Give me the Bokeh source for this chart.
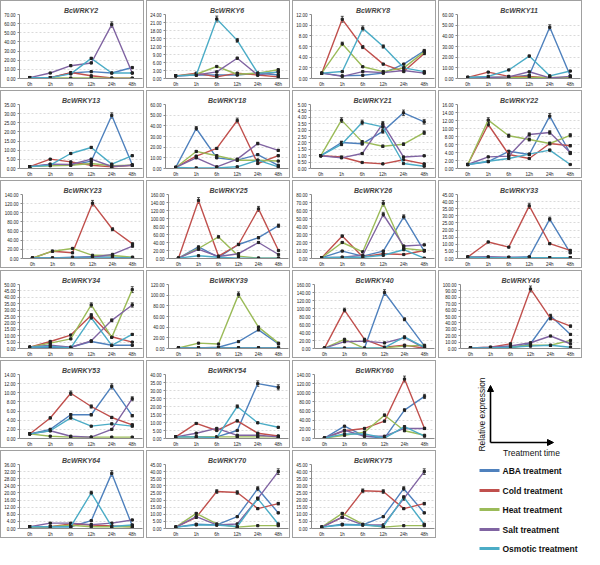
import math
from bokeh.plotting import figure
from bokeh.models import (FactorRange, Range1d, FixedTicker, PrintfTickFormatter,
                          ColumnDataSource, Whisker, TeeHead, Arrow, NormalHead, Label)
from bokeh.layouts import row, column
from bokeh.core.properties import value
from bokeh.embed import file_html
from bokeh.resources import INLINE

times = ["0h", "1h", "6h", "12h", "24h", "48h"]
treatments = ["ABA treatment", "Cold treatment", "Heat treatment", "Salt treatment", "Osmotic treatment"]
colors = ["#4F81BD", "#C0504D", "#9BBB59", "#8064A2", "#4BACC6"]

# each gene: [ABA, Cold, Heat, Salt, Osmotic]
wrky2 = [[1, 1, 6, 7.5, 6, 12], [1, 1, 6.5, 3, 0.5, 0.3], [1, 0.5, 0.5, 0.5, 0.3, 0.3],
         [1, 6, 14, 17, 59, 6], [1, 1, 5, 22, 6, 6]]
wrky6 = [[1, 1.3, 1.3, 1.3, 2, 1.3], [1, 2, 0.6, 2, 1.3, 0.6], [1, 1.6, 4.5, 1.6, 2, 3.3],
         [1, 1.3, 2.5, 7.6, 1.3, 2.5], [1, 1.3, 22.3, 14.3, 2, 2.3]]
wrky8 = [[1, 0.5, 0.6, 1, 2.7, 5.2], [1, 11.1, 5.9, 2.7, 1.3, 4.7], [1, 6.5, 2.2, 1.3, 2, 5],
         [1, 0.4, 1.3, 1.1, 1.5, 1], [1, 1.3, 9.4, 6, 2, 1.3]]
wrky11 = [[1, 1, 1, 3, 48, 2.5], [1, 6, 2, 2, 0.6, 0.6], [1, 1, 1, 1, 1, 1],
          [1, 1, 1.5, 6.3, 0.6, 2], [1, 2, 8, 21, 2.5, 7]]
wrky13 = [[1, 2.2, 1.8, 4, 29, 2], [1, 5.1, 3.6, 1.8, 0.9, 1.8], [1, 1.5, 1.8, 2.7, 1.5, 1.8],
          [1, 2.4, 2.2, 5.1, 1.1, 1.8], [1, 1.8, 8.2, 11.5, 2.4, 7]]
wrky18 = [[1, 37.5, 10, 7.8, 13, 3], [1, 11.6, 18.8, 45, 4.7, 12], [1, 16, 12, 7.8, 7.8, 7],
          [1, 10, 1.6, 8.8, 23.4, 17], [1, 0.6, 0.6, 1.6, 7.8, 1.6]]
wrky21 = [[1, 2.03, 1.93, 2.9, 4.35, 3.65], [1, 0.9, 0.47, 0.36, 0.68, 0.36],
          [1, 3.78, 2.08, 1.74, 1.9, 2.8], [1, 0.83, 1.17, 3.5, 0.9, 0.99],
          [1, 1.88, 3.6, 3.25, 0.39, 0.18]]
wrky22 = [[1, 1.7, 4.3, 3.5, 13.1, 3.75], [1, 11, 3.5, 2.5, 6.25, 5.7], [1, 12.1, 8.2, 7.25, 6.25, 8.3],
          [1, 2.9, 3.1, 8.5, 9, 4], [1, 1.8, 2.5, 3.6, 4.6, 1]]
wrky23 = [[1, 1, 3, 4, 3, 2], [1, 16, 12.5, 121, 64, 32], [1, 16, 22, 7, 6.6, 3],
          [1, 1, 1, 3, 9, 27], [1, 1, 1, 1, 1, 1]]
wrky25 = [[1, 29, 3, 35, 52, 82], [1, 145, 6, 35, 124, 20], [1, 25, 54, 6, 1, 1],
          [1, 23, 5, 12, 40, 10], [1, 7, 3, 1, 1, 1]]
wrky26 = [[1, 9.3, 3, 9.3, 52, 9.3], [1, 28, 2, 6, 5, 10], [1, 20, 8.4, 69, 12.6, 10],
          [1, 1.5, 4, 55, 15.6, 17], [1, 1.5, 1.5, 4, 11, 0.5]]
wrky33 = [[1, 0.5, 0.5, 1.2, 27.7, 4], [1, 11.6, 8, 37, 10.4, 5.7], [1, 0.5, 0.5, 0.5, 0.5, 0.5],
          [1, 1.2, 1, 0.5, 0.5, 0.5], [1, 0.5, 0.5, 0.5, 0.5, 0.5]]
wrky34 = [[1, 1, 1, 5.5, 2.5, 2.5], [1, 5.5, 10.5, 26, 9.2, 5], [1, 4.2, 7.5, 34, 8.7, 46],
          [1, 2.5, 1, 6, 22, 34], [1, 1.7, 0.5, 24, 2.5, 11]]
wrky39 = [[1, 1, 2.4, 13, 35, 8.4], [1, 1, 1, 1, 1, 1], [1, 10, 8.4, 101, 40, 10],
          [1, 1, 1, 1, 1, 1], [1, 1, 1, 1, 1, 1]]
wrky40 = [[1, 1, 1, 140, 73, 6], [1, 96, 23, 3.4, 8.4, 0.5], [1, 23, 0.5, 1.5, 6, 8],
          [1, 17, 18.5, 14, 27, 1.5], [1, 1, 1, 2, 29, 3]]
wrky46 = [[1, 1, 1, 7.4, 51, 22], [1, 2, 7.4, 93, 47, 35], [1, 1, 2, 5, 5, 12.6],
          [1, 2, 4, 9, 19.5, 7.4], [1, 1, 2, 3.7, 5, 2]]
wrky53 = [[1, 2, 5.2, 5.2, 11.4, 5], [1, 4.5, 9.9, 7, 4.6, 3], [1, 0.5, 0.3, 0.3, 0.3, 0.3],
          [1, 1.7, 0.5, 0.3, 2, 8.7], [1, 1.7, 4.5, 2.7, 3.2, 2.7]]
wrky54 = [[1, 1, 1, 5, 34.3, 32], [1, 9.4, 5, 11, 3.3, 1.6], [1, 1, 1, 1, 1, 1],
          [1, 3.3, 6.3, 2, 2, 1], [1, 1, 0.5, 20, 9.8, 7]]
wrky60 = [[1, 27, 5, 1, 62, 92], [1, 17, 22, 38, 130, 22], [1, 7, 14, 51, 17, 7],
          [1, 18, 5, 5, 22, 22], [1, 10, 10, 1, 26, 5]]
wrky64 = [[1, 1, 1, 4.4, 31, 1.5], [1, 1, 2.6, 2, 1.5, 1], [1, 1, 1.8, 1, 1, 1],
          [1, 3, 3, 2.2, 3, 4.8], [1, 1, 1, 20, 1.1, 2]]
wrky70 = [[1, 3, 2.5, 8.3, 28, 11], [1, 7.8, 26, 25.3, 14, 17.5], [1, 10.6, 3.2, 1, 2, 2],
          [1, 8.3, 2.5, 3.2, 21, 40], [1, 2.5, 2.5, 1.4, 21, 3.2]]
wrky75 = [[1, 3, 2.5, 8.3, 28, 11], [1, 7.8, 26.5, 26, 14, 17.5], [1, 10.6, 3, 1, 2, 2],
          [1, 8, 2.5, 2.5, 21, 40], [1, 2.5, 2.5, 1.4, 22, 3]]

gene_names = ["BcWRKY2", "BcWRKY6", "BcWRKY8", "BcWRKY11",
              "BcWRKY13", "BcWRKY18", "BcWRKY21", "BcWRKY22",
              "BcWRKY23", "BcWRKY25", "BcWRKY26", "BcWRKY33",
              "BcWRKY34", "BcWRKY39", "BcWRKY40", "BcWRKY46",
              "BcWRKY53", "BcWRKY54", "BcWRKY60",
              "BcWRKY64", "BcWRKY70", "BcWRKY75"]
gene_data = [wrky2, wrky6, wrky8, wrky11, wrky13, wrky18, wrky21, wrky22,
             wrky23, wrky25, wrky26, wrky33, wrky34, wrky39, wrky40, wrky46,
             wrky53, wrky54, wrky60, wrky64, wrky70, wrky75]
y_max = [70, 24, 12, 60, 35, 60, 5, 16, 140, 160, 80, 45, 50, 120, 160, 100, 14, 40, 140, 36, 45, 45]
y_step = [10, 3, 2, 10, 5, 10, 0.5, 2, 20, 20, 10, 5, 5, 20, 20, 10, 2, 5, 20, 4, 5, 5]

FONT = "Liberation Sans"
PW, PH = 144, 88


def make_panel(name, series, ymax, step):
    p = figure(width=PW, height=PH, x_range=FactorRange(factors=times),
               y_range=Range1d(0, ymax), output_backend="svg", toolbar_location=None,
               min_border_left=17, min_border_right=3, min_border_top=13, min_border_bottom=0,
               background_fill_color="white", border_fill_color="white")
    p.styles = {"border": "1px solid #a0a0a0"}
    p.title.text = name
    p.title.align = "center"
    p.title.text_font = FONT
    p.title.text_font_size = "7px"
    p.title.text_font_style = "bold italic"
    p.title.standoff = 2
    p.outline_line_color = None
    n = int(round(ymax / step))
    p.yaxis.ticker = FixedTicker(ticks=[i * step for i in range(n + 1)])
    p.yaxis.formatter = PrintfTickFormatter(format="%.2f")
    for ax in (p.xaxis, p.yaxis):
        ax.major_label_text_font = FONT
        ax.major_label_text_font_size = "4.5px"
        ax.major_label_text_color = "#222222"
        ax.axis_line_color = "#8a8a8a"
        ax.axis_line_width = 1
        ax.minor_tick_line_color = None
        ax.major_label_standoff = 2
        ax.axis_label_standoff = 0
    p.yaxis.major_tick_out = 2
    p.yaxis.major_tick_in = 0
    p.yaxis.major_tick_line_color = "#8a8a8a"
    p.xaxis.major_tick_line_color = None
    p.xaxis.major_tick_out = 0
    p.xaxis.major_tick_in = 0
    p.xaxis.major_label_standoff = 3
    p.xgrid.grid_line_color = None
    p.ygrid.grid_line_color = "#d0d0d0"
    p.ygrid.grid_line_dash = "2 2"
    p.ygrid.grid_line_width = 0.8
    for vals, col in zip(series, colors):
        src = ColumnDataSource(dict(x=times, y=vals,
                                    up=[v * 1.05 for v in vals], lo=[v * 0.95 for v in vals]))
        p.line("x", "y", source=src, line_color=col, line_width=1.4)
        p.add_layout(Whisker(base="x", upper="up", lower="lo", source=src,
                             line_color="#111111", line_width=0.7,
                             upper_head=TeeHead(size=3, line_color="#111111", line_width=0.7),
                             lower_head=TeeHead(size=3, line_color="#111111", line_width=0.7)))
        p.scatter("x", "y", source=src, marker="square", size=2.2,
                  fill_color="#222222", line_color="#222222")
    return p


panels = [make_panel(n, d, m, s) for n, d, m, s in zip(gene_names, gene_data, y_max, y_step)]

# legend / schematic panel
LW, LH = 146, 192
lg = figure(width=LW, height=LH, x_range=Range1d(0, LW), y_range=Range1d(LH, 0),
            output_backend="svg", toolbar_location=None,
            min_border_left=0, min_border_right=0, min_border_top=0, min_border_bottom=0)
lg.axis.visible = False
lg.grid.grid_line_color = None
lg.outline_line_color = None
lg.add_layout(Arrow(end=NormalHead(size=6, fill_color="black", line_color="black"),
                    x_start=52, y_start=82, x_end=52, y_end=25, line_width=1.6))
lg.add_layout(Arrow(end=NormalHead(size=6, fill_color="black", line_color="black"),
                    x_start=52, y_start=82, x_end=115, y_end=82, line_width=1.6))
lg.add_layout(Label(x=43, y=54, text="Relative expression", angle=math.pi / 2,
                    text_align="center", text_baseline="middle", text_font=FONT,
                    text_font_size="8.5px", text_color="#111111"))
lg.add_layout(Label(x=93, y=92, text="Treatment time", text_align="center",
                    text_baseline="middle", text_font=FONT, text_font_size="8.5px",
                    text_color="#111111"))
leg_y = [110, 130, 149, 169, 188]
for t, c, yy in zip(treatments, colors, leg_y):
    lg.line(x=[41, 61], y=[yy, yy], line_color=c, line_width=3)
lg.text(x=[64] * 5, y=leg_y, text=treatments, text_font=value(FONT), text_font_size="8.5px",
        text_baseline="middle", text_color="#111111", text_font_style="bold")

SP = 2
rows_top = [row(panels[i * 4:(i + 1) * 4], spacing=SP) for i in range(4)]
bottom = row(column(row(panels[16:19], spacing=SP), row(panels[19:22], spacing=SP), spacing=SP),
             lg, spacing=SP)
layout = column(rows_top + [bottom], spacing=SP)

open("out.html", "w").write(file_html(layout, INLINE))
